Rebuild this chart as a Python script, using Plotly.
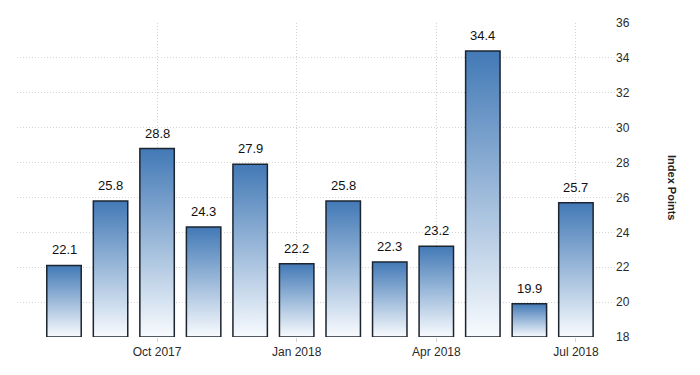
import plotly.graph_objects as go

months = ["Aug 2017", "Sep 2017", "Oct 2017", "Nov 2017", "Dec 2017", "Jan 2018",
          "Feb 2018", "Mar 2018", "Apr 2018", "May 2018", "Jun 2018", "Jul 2018"]
values = [22.1, 25.8, 28.8, 24.3, 27.9, 22.2, 25.8, 22.3, 23.2, 34.4, 19.9, 25.7]
tick_labels = ["Oct 2017", "Jan 2018", "Apr 2018", "Jul 2018"]
y_ticks = [18, 20, 22, 24, 26, 28, 30, 32, 34, 36]

base = 18
half = 0.37
FONT = "Liberation Sans, Arial, sans-serif"

fig = go.Figure()
xpos = list(range(len(months)))
for i, v in enumerate(values):
    fig.add_trace(go.Scatter(
        x=[i - half, i + half, i + half, i - half, i - half],
        y=[base, base, v, v, base],
        mode="lines",
        fill="toself",
        fillgradient=dict(type="vertical",
                          colorscale=[[0, "#f8fbfe"], [1, "#4279b6"]]),
        line=dict(color="#1c2430", width=1.5),
        hoverinfo="skip",
        showlegend=False,
    ))

tick_vals = [months.index(t) for t in tick_labels]

label_annotations = [
    dict(x=x, y=v, xref="x", yref="y", text=f"{v:.1f}",
         showarrow=False, xanchor="center", yanchor="bottom", yshift=6,
         font=dict(family=FONT, size=13, color="#111111"))
    for x, v in zip(xpos, values)
]

# page body has an 8px default margin, so the figure is 692x367 and offset
fig.update_layout(
    width=692, height=367,
    margin=dict(l=9, r=85, t=15, b=38, autoexpand=False),
    paper_bgcolor="white", plot_bgcolor="white",
    xaxis=dict(
        range=[-1.01, 11.84], automargin=False,
        tickvals=tick_vals, ticktext=tick_labels,
        showgrid=True, gridcolor="#d4d4d4", griddash="1px,2px", gridwidth=1,
        zeroline=False, showline=False,
        ticks="outside", ticklen=4, tickcolor="#d4d4d4",
        tickfont=dict(family=FONT, size=12, color="#2a2a2a"),
    ),
    yaxis=dict(
        range=[18, 36], side="right", automargin=False,
        tickvals=y_ticks,
        showgrid=True, gridcolor="#d4d4d4", griddash="1px,2px", gridwidth=1,
        zeroline=False, showline=False,
        ticks="",
        tickfont=dict(family=FONT, size=12, color="#2a2a2a"),
    ),
    annotations=label_annotations + [dict(
        text="<b>Index Points</b>", textangle=90,
        xref="paper", yref="paper", x=1.095, y=0.475,
        xanchor="center", yanchor="middle",
        showarrow=False,
        font=dict(family=FONT, size=11, color="#222222"),
    )],
)

fig.write_html("out.html")
